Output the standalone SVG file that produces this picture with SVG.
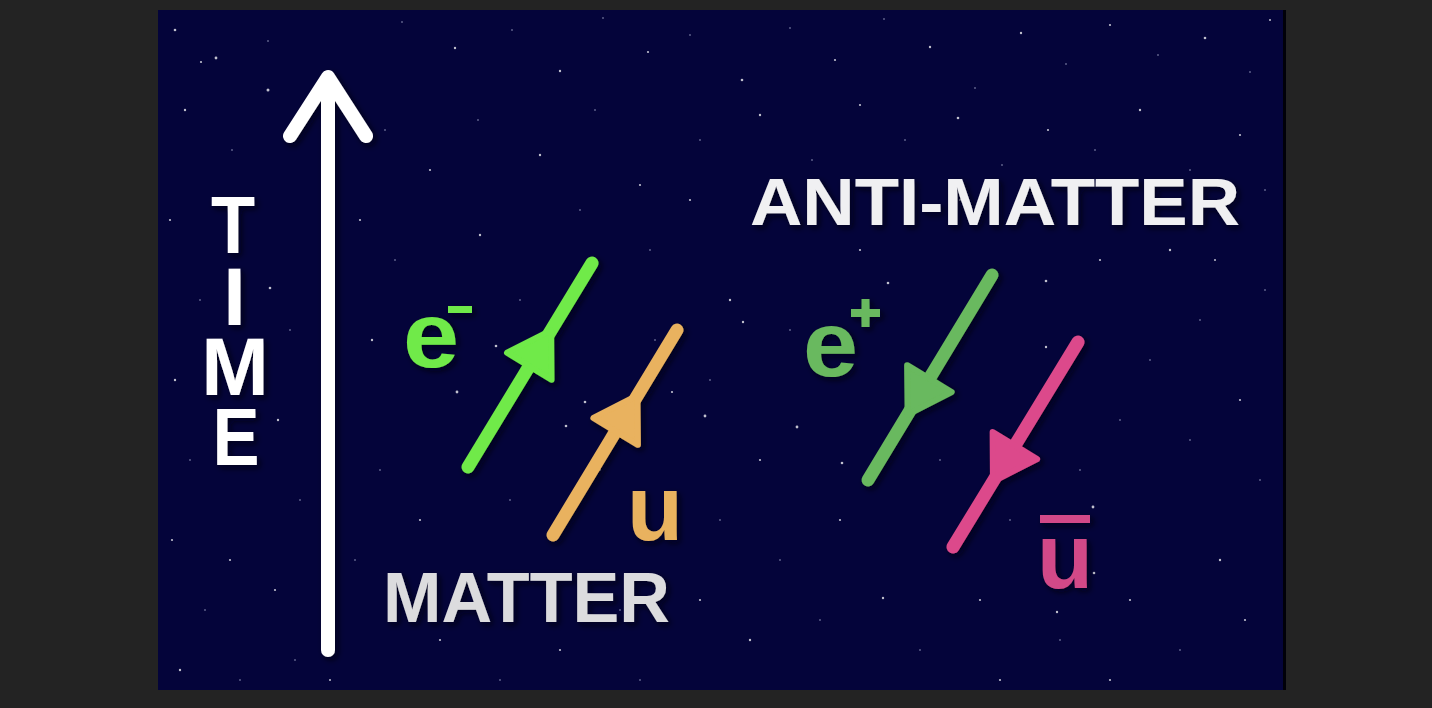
<svg xmlns="http://www.w3.org/2000/svg" width="1432" height="708" viewBox="0 0 1432 708">
<style>
.txt{font-family:"Liberation Sans","Arial",sans-serif;font-weight:bold}
.star{fill:#ffffff;opacity:.75}
.dim{fill:#c8cce8;opacity:.45}
.line{fill:none;stroke-width:13;stroke-linecap:round}
</style>
<defs>
<filter id="sh" x="-20%" y="-20%" width="140%" height="140%">
<feDropShadow dx="3" dy="3" stdDeviation="3" flood-color="#000010" flood-opacity="0.75"/>
</filter>
<marker id="ah-lime" markerUnits="userSpaceOnUse" viewBox="-10 -35 60 70" markerWidth="60" markerHeight="70" refX="0" refY="0" orient="auto" overflow="visible">
<path d="M2,-26 L44,0 L2,26 Z" fill="#6FEA48" stroke="#6FEA48" stroke-width="6" stroke-linejoin="round"/>
</marker>
<marker id="ah-orange" markerUnits="userSpaceOnUse" viewBox="-10 -35 60 70" markerWidth="60" markerHeight="70" refX="0" refY="0" orient="auto" overflow="visible">
<path d="M2,-26 L44,0 L2,26 Z" fill="#E9B25E" stroke="#E9B25E" stroke-width="6" stroke-linejoin="round"/>
</marker>
<marker id="ah-green" markerUnits="userSpaceOnUse" viewBox="-10 -35 60 70" markerWidth="60" markerHeight="70" refX="0" refY="0" orient="auto" overflow="visible">
<path d="M2,-26 L44,0 L2,26 Z" fill="#69B95E" stroke="#69B95E" stroke-width="6" stroke-linejoin="round"/>
</marker>
<marker id="ah-pink" markerUnits="userSpaceOnUse" viewBox="-10 -35 60 70" markerWidth="60" markerHeight="70" refX="0" refY="0" orient="auto" overflow="visible">
<path d="M2,-26 L44,0 L2,26 Z" fill="#DC4A8B" stroke="#DC4A8B" stroke-width="6" stroke-linejoin="round"/>
</marker>
</defs>

<rect x="0" y="0" width="1432" height="708" fill="#232323"/>
<rect x="158" y="10" width="1128" height="680" fill="#000008"/>
<rect x="158" y="10" width="1125" height="680" fill="#04043A"/>

<g id="stars">
<circle class="star" cx="175" cy="30" r="1.3"/><circle class="star" cx="201" cy="62" r="1.1"/><circle class="dim" cx="268" cy="41" r="1"/><circle class="star" cx="268" cy="90" r="1.5"/>
<circle class="dim" cx="402" cy="22" r="1"/><circle class="star" cx="455" cy="48" r="1.2"/><circle class="dim" cx="512" cy="30" r="1"/><circle class="star" cx="560" cy="71" r="1.2"/>
<circle class="dim" cx="603" cy="18" r="1"/><circle class="star" cx="648" cy="52" r="1.1"/><circle class="dim" cx="690" cy="35" r="1"/><circle class="star" cx="742" cy="80" r="1.3"/>
<circle class="dim" cx="790" cy="28" r="1"/><circle class="star" cx="835" cy="60" r="1.1"/><circle class="dim" cx="884" cy="19" r="1"/><circle class="star" cx="930" cy="47" r="1.2"/>
<circle class="dim" cx="975" cy="88" r="1"/><circle class="star" cx="1021" cy="33" r="1.2"/><circle class="dim" cx="1066" cy="64" r="1"/><circle class="star" cx="1110" cy="25" r="1.1"/>
<circle class="dim" cx="1158" cy="55" r="1"/><circle class="star" cx="1205" cy="38" r="1.3"/><circle class="dim" cx="1250" cy="72" r="1"/><circle class="star" cx="1270" cy="20" r="1"/>
<circle class="star" cx="185" cy="110" r="1.2"/><circle class="dim" cx="232" cy="150" r="1"/><circle class="star" cx="216" cy="58" r="1.4"/><circle class="dim" cx="385" cy="130" r="1"/>
<circle class="star" cx="430" cy="170" r="1.1"/><circle class="dim" cx="478" cy="120" r="1"/><circle class="star" cx="540" cy="155" r="1.2"/><circle class="dim" cx="595" cy="110" r="1"/>
<circle class="star" cx="640" cy="185" r="1.1"/><circle class="dim" cx="700" cy="140" r="1"/><circle class="star" cx="760" cy="115" r="1.2"/><circle class="dim" cx="812" cy="160" r="1"/>
<circle class="star" cx="860" cy="105" r="1.1"/><circle class="dim" cx="905" cy="140" r="1"/><circle class="star" cx="958" cy="118" r="1.3"/><circle class="dim" cx="1002" cy="165" r="1"/>
<circle class="star" cx="1048" cy="130" r="1.1"/><circle class="dim" cx="1095" cy="150" r="1"/><circle class="star" cx="1140" cy="110" r="1.2"/><circle class="dim" cx="1190" cy="170" r="1"/>
<circle class="star" cx="1240" cy="135" r="1.1"/><circle class="dim" cx="1265" cy="190" r="1"/><circle class="star" cx="170" cy="220" r="1.1"/><circle class="dim" cx="200" cy="300" r="1"/>
<circle class="star" cx="175" cy="380" r="1.2"/><circle class="dim" cx="190" cy="460" r="1"/><circle class="star" cx="172" cy="540" r="1.1"/><circle class="dim" cx="205" cy="610" r="1"/>
<circle class="star" cx="180" cy="670" r="1.2"/><circle class="star" cx="270" cy="288" r="1.3"/><circle class="dim" cx="290" cy="330" r="1"/><circle class="star" cx="278" cy="420" r="1.2"/>
<circle class="dim" cx="300" cy="500" r="1"/><circle class="star" cx="275" cy="590" r="1.1"/><circle class="dim" cx="295" cy="660" r="1"/><circle class="star" cx="360" cy="220" r="1.1"/>
<circle class="dim" cx="395" cy="260" r="1"/><circle class="star" cx="372" cy="340" r="1.2"/><circle class="star" cx="457" cy="392" r="1.4"/><circle class="dim" cx="380" cy="470" r="1"/>
<circle class="star" cx="420" cy="520" r="1.1"/><circle class="dim" cx="355" cy="560" r="1"/><circle class="star" cx="440" cy="640" r="1.1"/><circle class="dim" cx="500" cy="680" r="1"/>
<circle class="star" cx="480" cy="235" r="1.2"/><circle class="dim" cx="520" cy="300" r="1"/><circle class="star" cx="496" cy="346" r="1.3"/><circle class="star" cx="585" cy="402" r="1.3"/>
<circle class="dim" cx="510" cy="500" r="1"/><circle class="star" cx="600" cy="470" r="1.1"/><circle class="star" cx="566" cy="426" r="1.3"/><circle class="dim" cx="620" cy="610" r="1"/>
<circle class="star" cx="700" cy="600" r="1.1"/><circle class="dim" cx="720" cy="520" r="1"/><circle class="star" cx="705" cy="416" r="1.4"/><circle class="dim" cx="650" cy="250" r="1"/>
<circle class="star" cx="730" cy="300" r="1.2"/><circle class="dim" cx="710" cy="380" r="1"/><circle class="star" cx="760" cy="460" r="1.1"/><circle class="dim" cx="780" cy="560" r="1"/>
<circle class="star" cx="750" cy="640" r="1.2"/><circle class="dim" cx="820" cy="620" r="1"/><circle class="star" cx="840" cy="520" r="1.1"/><circle class="star" cx="797" cy="427" r="1.4"/>
<circle class="dim" cx="790" cy="330" r="1"/><circle class="star" cx="860" cy="250" r="1.1"/><circle class="star" cx="888" cy="283" r="1.3"/><circle class="dim" cx="940" cy="460" r="1"/>
<circle class="star" cx="842" cy="463" r="1.3"/><circle class="dim" cx="920" cy="650" r="1"/><circle class="star" cx="980" cy="600" r="1.1"/><circle class="dim" cx="1010" cy="520" r="1"/>
<circle class="star" cx="1046" cy="347" r="1.2"/><circle class="star" cx="1046" cy="281" r="1.3"/><circle class="star" cx="1100" cy="260" r="1.1"/><circle class="dim" cx="1120" cy="420" r="1"/>
<circle class="star" cx="1093" cy="507" r="1.4"/><circle class="star" cx="1094" cy="573" r="1.3"/><circle class="star" cx="1130" cy="600" r="1.1"/><circle class="dim" cx="1180" cy="650" r="1"/>
<circle class="star" cx="1220" cy="560" r="1.2"/><circle class="dim" cx="1260" cy="480" r="1"/><circle class="star" cx="1240" cy="400" r="1.1"/><circle class="dim" cx="1200" cy="320" r="1"/>
<circle class="star" cx="1170" cy="250" r="1.2"/><circle class="dim" cx="1265" cy="290" r="1"/><circle class="star" cx="1000" cy="680" r="1.1"/><circle class="dim" cx="1060" cy="640" r="1"/>
<circle class="star" cx="1110" cy="680" r="1.1"/><circle class="dim" cx="640" cy="680" r="1"/><circle class="star" cx="560" cy="650" r="1.1"/><circle class="dim" cx="420" cy="600" r="1"/>
<circle class="star" cx="330" cy="680" r="1"/><circle class="dim" cx="240" cy="680" r="1"/><circle class="star" cx="1245" cy="620" r="1.1"/><circle class="dim" cx="1080" cy="470" r="1"/>
<circle class="star" cx="960" cy="200" r="1.1"/><circle class="dim" cx="580" cy="210" r="1"/><circle class="star" cx="690" cy="200" r="1.1"/><circle class="dim" cx="1190" cy="440" r="1"/>
<circle class="star" cx="230" cy="560" r="1.1"/><circle class="star" cx="743" cy="322" r="1.2"/><circle class="star" cx="1057" cy="612" r="1.2"/><circle class="star" cx="883" cy="598" r="1.2"/>
<circle class="dim" cx="1150" cy="360" r="1"/><circle class="star" cx="1215" cy="260" r="1"/><circle class="dim" cx="655" cy="340" r="1"/><circle class="star" cx="672" cy="392" r="1.1"/>
</g>

<g id="time-axis" filter="url(#sh)">
<path d="M328,650 L328,78 M290,136 L328,77 L366,136" fill="none" stroke="#FFFFFF" stroke-width="14" stroke-linecap="round" stroke-linejoin="round"/>
</g>

<g id="time-label" filter="url(#sh)">
<text class="txt" fill="#FFFFFF" font-size="81" text-anchor="middle"><tspan x="233" y="253" textLength="44" lengthAdjust="spacingAndGlyphs">T</tspan><tspan x="234.5" y="325">I</tspan><tspan x="235" y="395">M</tspan><tspan x="236" y="465" textLength="47" lengthAdjust="spacingAndGlyphs">E</tspan></text>
</g>

<g id="connectors" filter="url(#sh)">
<path id="electron" class="line" d="M468,467 L528.2,367.9 L592,263" stroke="#6FEA48" marker-mid="url(#ah-lime)"/>
<path id="up-quark" class="line" d="M553,535 L614.6,433.1 L677,330" stroke="#E9B25E" marker-mid="url(#ah-orange)"/>
<path id="positron" class="line" d="M992,275 L930.4,376.9 L868,480" stroke="#69B95E" marker-mid="url(#ah-green)"/>
<path id="anti-up" class="line" d="M1078,342 L1015.9,443.9 L953,547" stroke="#DC4A8B" marker-mid="url(#ah-pink)"/>
</g>

<g id="label-electron" filter="url(#sh)">
<text class="txt" x="403" y="367" font-size="92" fill="#6FEA48" textLength="56" lengthAdjust="spacingAndGlyphs">e</text>
<rect x="448" y="306" width="24" height="7" fill="#6FEA48"/>
</g>

<g id="label-up" filter="url(#sh)">
<text class="txt" x="627" y="540" font-size="92" fill="#E9B25E" textLength="56" lengthAdjust="spacingAndGlyphs">u</text>
</g>

<g id="label-positron" filter="url(#sh)">
<text class="txt" x="803" y="376" font-size="92" fill="#69B95E" textLength="55" lengthAdjust="spacingAndGlyphs">e</text>
<path d="M851,313 H880 M865.5,299 V327" stroke="#69B95E" stroke-width="8" fill="none"/>
</g>

<g id="label-antiup" filter="url(#sh)">
<text class="txt" x="1037" y="588" font-size="92" fill="#D24A88" textLength="56" lengthAdjust="spacingAndGlyphs">u</text>
<rect x="1040" y="515" width="50" height="8" fill="#D24A88"/>
</g>

<g id="label-matter" filter="url(#sh)">
<text class="txt" x="383" y="622" font-size="70" fill="#DCDCDE" textLength="287" lengthAdjust="spacingAndGlyphs">MATTER</text>
</g>

<g id="label-antimatter" filter="url(#sh)">
<text class="txt" x="750" y="225" font-size="67" fill="#F0F0F2" textLength="490" lengthAdjust="spacingAndGlyphs">ANTI-MATTER</text>
</g>
</svg>
